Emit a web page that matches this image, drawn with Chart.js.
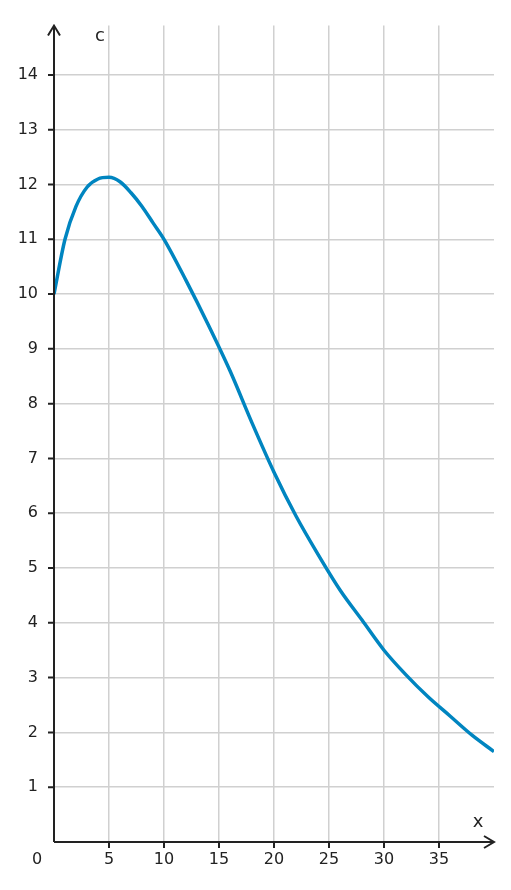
<!DOCTYPE html><html><head><meta charset="utf-8">
<script src="https://cdn.jsdelivr.net/npm/chart.js@4"></script>
<style>html,body{margin:0;padding:0;background:#fff}#w{width:511px;height:890px}</style></head><body>
<div id="w"><canvas id="c"></canvas></div>
<script>
const xs=[0,1,2,3,4,5,6,7,8,9,10,12,14,16,18,20,22,24,26,28,30,32,34,36,38,40];
const cs=[10,11.0,11.6,11.95,12.1,12.13,12.05,11.85,11.6,11.3,11.0,10.25,9.45,8.6,7.65,6.75,5.95,5.25,4.6,4.05,3.5,3.05,2.65,2.3,1.95,1.65];
const xTicks=[5,10,15,20,25,30,35];
const yTicks=[1,2,3,4,5,6,7,8,9,10,11,12,13,14];
const F='"DejaVu Sans"';
const axes={id:'axes',afterDraw(ch){const c=ch.ctx,a=ch.chartArea,x=ch.scales.x,y=ch.scales.y;
const ox=x.getPixelForValue(0),oy=y.getPixelForValue(0);
c.save();c.strokeStyle='#222';c.lineWidth=2;c.beginPath();
c.moveTo(ox,oy);c.lineTo(ox,a.top);c.moveTo(ox,oy);c.lineTo(a.right,oy);
c.moveTo(ox-6,a.top+10);c.lineTo(ox,a.top);c.lineTo(ox+6,a.top+10);
c.moveTo(a.right-10,oy-6);c.lineTo(a.right,oy);c.lineTo(a.right-10,oy+6);
yTicks.forEach(v=>{const p=y.getPixelForValue(v);c.moveTo(ox-6,p);c.lineTo(ox,p);});
xTicks.forEach(v=>{const p=x.getPixelForValue(v);c.moveTo(p,oy);c.lineTo(p,oy+6);});
c.stroke();c.fillStyle='#222';c.font='18px '+F;c.textAlign='center';c.textBaseline='middle';
c.fillText('c',100,36);c.fillText('x',478,822);c.font='16px '+F;c.fillText('0',37,860);c.restore();}};
new Chart(document.getElementById('c'),{type:'line',
data:{datasets:[{data:xs.map((v,i)=>({x:v,y:cs[i]})),borderColor:'#0085c0',borderWidth:3.5,pointRadius:0,cubicInterpolationMode:'monotone',fill:false}]},
options:{responsive:true,maintainAspectRatio:false,animation:false,layout:{padding:{top:22,right:17,left:0,bottom:0}},
plugins:{legend:{display:false},tooltip:{enabled:false}},
scales:{x:{type:'linear',min:0,max:40,afterFit:s=>{s.height=48},afterBuildTicks:s=>{s.ticks=xTicks.map(v=>({value:v}))},
grid:{color:'#d0d0d0',lineWidth:1.5,drawTicks:false},border:{display:false},ticks:{color:'#222',font:{family:F,size:16},padding:8}},
y:{min:0,max:14.9,afterFit:s=>{s.width=54},afterBuildTicks:s=>{s.ticks=yTicks.map(v=>({value:v}))},
grid:{color:'#d0d0d0',lineWidth:1.5,drawTicks:false},border:{display:false},ticks:{color:'#222',font:{family:F,size:16},padding:16}}}},
plugins:[axes]});
</script></body></html>
